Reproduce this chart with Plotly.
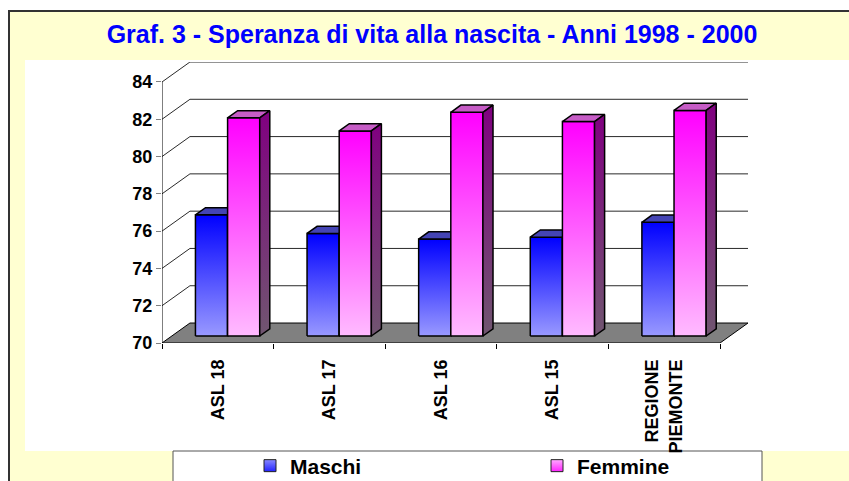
import plotly.graph_objects as go

# ---- data ----
categories = ["ASL 18", "ASL 17", "ASL 16", "ASL 15", "REGIONE<br>PIEMONTE"]
maschi = [76.5, 75.5, 75.2, 75.3, 76.1]
femmine = [81.7, 81.0, 82.0, 81.5, 82.1]
y_ticks = [70, 72, 74, 76, 78, 80, 82, 84]
series_names = ["Maschi", "Femmine"]
title_text = "Graf. 3 - Speranza di vita alla nascita - Anni 1998 - 2000"

# ---- pseudo-3D geometry (axis units) ----
W, H = 849, 481
BASE = 70.0
DX, DY = 0.2504, 1.071          # full depth offset of the floor
F0, F1 = 0.35, 0.71             # bar front / back depth fraction
GAP, BW = 0.212, 0.288          # gap before pair, bar width (category units)
YMAX = y_ticks[-1]

styles = {
    "Maschi": dict(front=[[0, "#9999FF"], [1, "#0000FF"]], top="#4444B4",
                   side=[[0, "#505080"], [1, "#202080"]]),
    "Femmine": dict(front=[[0, "#FFBBFF"], [1, "#FF00FF"]], top="#C65CC6",
                    side=[[0, "#705670"], [1, "#800080"]]),
}

fig = go.Figure()

# floor
fig.add_trace(go.Scatter(
    x=[0, 5, 5 + DX, DX, 0], y=[BASE, BASE, BASE + DY, BASE + DY, BASE],
    mode="lines", fill="toself", fillcolor="#808080",
    line=dict(color="black", width=1), hoverinfo="skip", showlegend=False))

# back-wall gridlines + side-wall diagonals
gx, gy = [], []
for v in y_ticks[1:]:
    gx += [0, DX, 5 + DX, None]
    gy += [v, v + DY, v + DY, None]
fig.add_trace(go.Scatter(x=gx, y=gy, mode="lines",
                         line=dict(color="#2a2a2a", width=1),
                         hoverinfo="skip", showlegend=False))

# front value axis line
fig.add_trace(go.Scatter(x=[0, 0], y=[BASE, YMAX], mode="lines",
                         line=dict(color="black", width=1),
                         hoverinfo="skip", showlegend=False))

b0 = BASE + F0 * DY
ddx, ddy = (F1 - F0) * DX, (F1 - F0) * DY
outline = dict(color="black", width=1.5)
for i in range(len(categories)):
    for s, (name, vals) in enumerate(zip(series_names, [maschi, femmine])):
        v = vals[i] + F0 * DY
        xl = i + GAP + s * BW + F0 * DX
        xr = xl + BW
        st = styles[name]
        # front face
        fig.add_trace(go.Scatter(
            x=[xl, xr, xr, xl, xl], y=[b0, b0, v, v, b0], mode="lines",
            fill="toself", fillgradient=dict(type="vertical", colorscale=st["front"]),
            line=outline, name=name, showlegend=False,
            hovertemplate=f"{categories[i]}<br>{name}: {vals[i]}<extra></extra>"))
        # top face
        fig.add_trace(go.Scatter(
            x=[xl, xr, xr + ddx, xl + ddx, xl], y=[v, v, v + ddy, v + ddy, v],
            mode="lines", fill="toself", fillcolor=st["top"], line=outline,
            hoverinfo="skip", showlegend=False))
        # side face
        fig.add_trace(go.Scatter(
            x=[xr, xr + ddx, xr + ddx, xr, xr], y=[b0, b0 + ddy, v + ddy, v, b0],
            mode="lines", fill="toself",
            fillgradient=dict(type="vertical", colorscale=st["side"]),
            line=outline, hoverinfo="skip", showlegend=False))

# legend entries
for name, col, grad in [("Maschi", "#8888FF", "#2222FF"), ("Femmine", "#FFAAFF", "#FF22FF")]:
    fig.add_trace(go.Scatter(
        x=[None], y=[None], mode="markers", name=name,
        marker=dict(symbol="square", size=12, color=col,
                    gradient=dict(type="vertical", color=grad),
                    line=dict(color="#222222", width=1))))

# convert page pixels to paper fractions
def px(xp): return xp / W
def py(yp): return 1 - yp / H

shapes = [
    dict(type="rect", xref="paper", yref="paper", x0=px(9), x1=px(860), y0=py(11), y1=py(490),
         fillcolor="#FFFFD1", line=dict(color="#333333", width=2), layer="below"),
    dict(type="rect", xref="paper", yref="paper", x0=px(25), x1=px(860), y0=py(60), y1=py(451),
         fillcolor="white", line=dict(width=0), layer="below"),
    dict(type="rect", xref="paper", yref="paper", x0=px(173), x1=px(762), y0=py(451), y1=py(490),
         fillcolor="white", line=dict(color="#555555", width=1), layer="below"),
]

fontfam = "Liberation Sans, Arial, sans-serif"
fig.update_layout(
    width=W, height=H, margin=dict(l=0, r=0, t=0, b=0, autoexpand=False),
    paper_bgcolor="white", plot_bgcolor="rgba(0,0,0,0)",
    shapes=shapes,
    title=dict(text=title_text, x=px(432), xanchor="center", y=py(34), yanchor="middle",
               yref="container", automargin=False,
               font=dict(family=fontfam, size=25, color="#0000FF", weight="bold")),
    xaxis=dict(domain=[px(162), px(748)], range=[0, 5 + DX], showgrid=False, zeroline=False,
               showline=False, automargin=False,
               tickvals=[i + 0.5 for i in range(len(categories))],
               ticktext=categories, tickangle=-90, ticks="", ticklabelstandoff=12,
               tickfont=dict(family=fontfam, size=18, color="black", weight="bold"),
               minor=dict(tickvals=list(range(len(categories) + 1)), ticks="outside",
                          ticklen=5, tickcolor="black", showgrid=False),
               fixedrange=True),
    yaxis=dict(domain=[py(343), py(62)], range=[BASE, YMAX + DY], showgrid=False,
               zeroline=False, showline=False, automargin=False,
               tickvals=y_ticks, ticks="outside",
               ticklen=5, tickcolor="#808080",
               tickfont=dict(family=fontfam, size=18, color="black", weight="bold"),
               fixedrange=True),
    showlegend=True,
    legend=dict(orientation="h", x=px(250), xanchor="left", y=py(466), yanchor="middle",
                bgcolor="rgba(0,0,0,0)", borderwidth=0, entrywidth=242, entrywidthmode="pixels",
                font=dict(family=fontfam, size=21, color="black", weight="bold")),
)

fig.write_html(
    "out.html",
    config={"displayModeBar": False},
    post_script="document.body.style.margin='0px';document.body.style.overflow='hidden';",
)
